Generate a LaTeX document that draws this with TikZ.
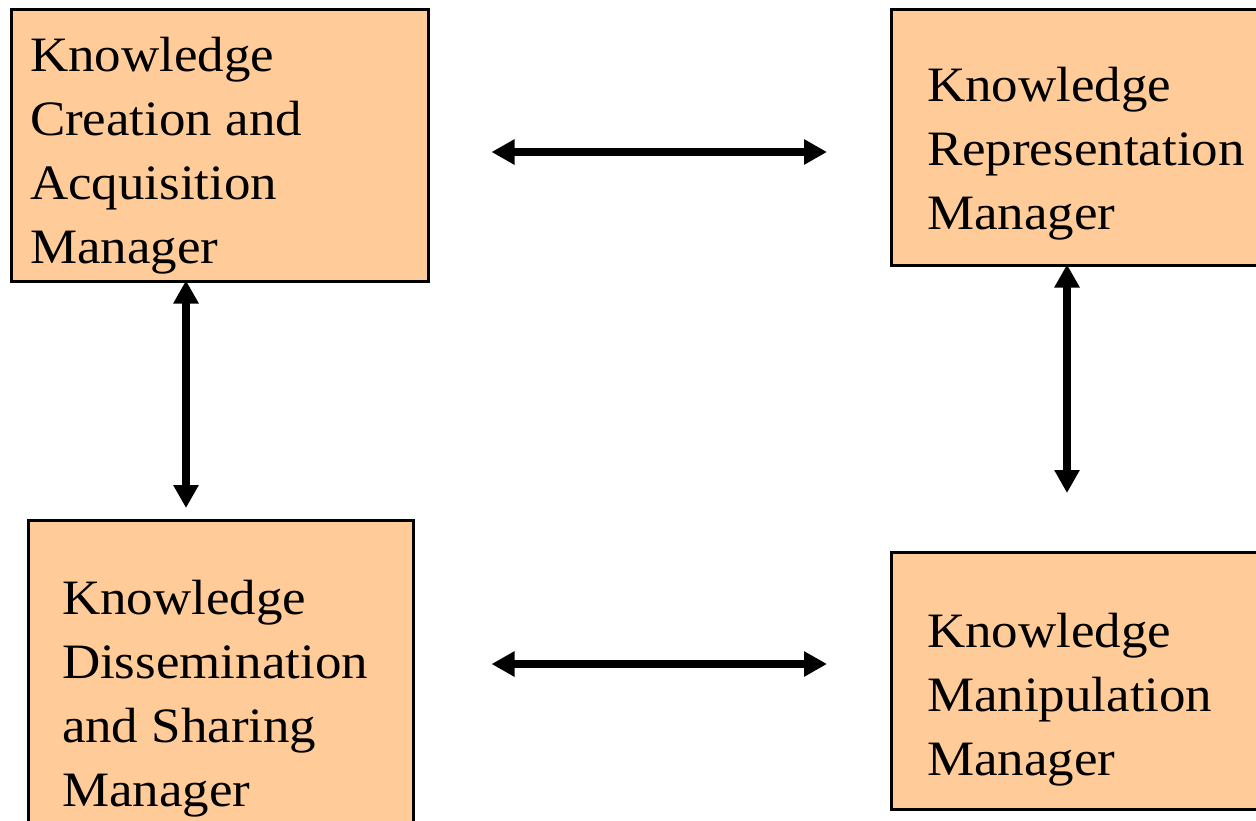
\documentclass[tikz,border=0pt]{standalone}
\usepackage{fontspec}
\usetikzlibrary{arrows.meta,calc}
\newfontfamily\boxfont[FakeStretch=1.07]{Liberation Serif}
\newcommand{\boxtext}[1]{\boxfont\fontsize{49.5}{64}\selectfont\begin{tabular}[t]{@{}l@{}}#1\end{tabular}}
\definecolor{peach}{HTML}{FFCC99}
\begin{document}
\begin{tikzpicture}[x=1pt,y=-1pt,
  mgrbox/.style={draw=black, line width=2.5pt, fill=peach, rectangle,
    anchor=north west, inner sep=0pt},
  mgrtext/.style={anchor=base west, inner sep=0pt, outer sep=0pt},
  biarrow/.style={line width=8pt, {Triangle[length=23pt,width=24pt]}-{Triangle[length=23pt,width=24pt]}}]
  \clip (0,0) rectangle (1256,820);
  \fill[white] (0,0) rectangle (1256,820);

  % manager boxes
  \node[mgrbox, minimum width=417pt, minimum height=272pt] (tl) at (10,8) {};
  \node[mgrbox, minimum width=400pt, minimum height=256pt] (tr) at (890,8) {};
  \node[mgrbox, minimum width=385pt, minimum height=340pt] (bl) at (27,519) {};
  \node[mgrbox, minimum width=400pt, minimum height=257pt] (br) at (890,551) {};

  % box labels
  \node[mgrtext] (tltext) at (30,71) {\boxtext{Knowledge\\Creation and\\Acquisition\\Manager}};
  \node[mgrtext] (trtext) at (927,101.5) {\boxtext{Knowledge\\Representation\\Manager}};
  \node[mgrtext] (bltext) at (62,614) {\boxtext{Knowledge\\Dissemination\\and Sharing\\Manager}};
  \node[mgrtext] (brtext) at (927,647) {\boxtext{Knowledge\\Manipulation\\Manager}};

  % connectors
  \coordinate (toprow) at (0,152);
  \coordinate (botrow) at (0,664);
  \coordinate (leftcol) at (186,0);
  \coordinate (rightcol) at (1067,0);
  \draw[biarrow, shorten <=62pt, shorten >=63pt] (tl.east |- toprow) -- (tr.west |- toprow);
  \draw[biarrow, shorten <=77pt, shorten >=63pt] (bl.east |- botrow) -- (br.west |- botrow);
  \draw[biarrow, shorten <=-2pt, shorten >=11pt] (tl.south -| leftcol) -- (bl.north -| leftcol);
  \draw[biarrow, shorten <=-2pt, shorten >=58pt] (tr.south -| rightcol) -- (br.north -| rightcol);
\end{tikzpicture}
\end{document}
